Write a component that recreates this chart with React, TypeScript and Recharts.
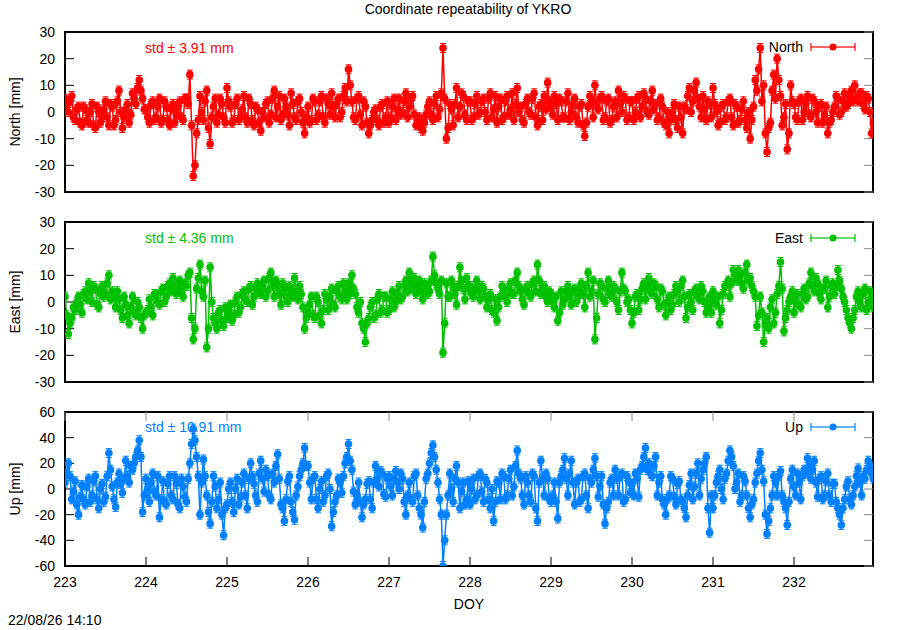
import React from 'react';
import { LineChart, Line, XAxis, YAxis, Legend, ReferenceArea, ReferenceLine } from 'recharts';

const FONT = '"Liberation Sans", Arial, sans-serif';

const DAYS = [223, 224, 225, 226, 227, 228, 229, 230, 231, 232];
const X_DOMAIN = [223, 232.975];
const X_TICKS = [223, 224, 225, 226, 227, 228, 229, 230, 231, 232];
const NE_TICKS = [-30, -20, -10, 0, 10, 20, 30];
const UP_TICKS = [-60, -40, -20, 0, 20, 40, 60];

// hourly values per day (on the hour), mm
const north223 = [5, 0, 6, -3, 2, -5, 1, -4, 3, -6, 0, -2, 4, -5, 2, -3, 8, -6, 1, -4, 7, 3, 12, 5];
const north224 = [1, -4, 4, -2, 5, -3, 2, -5, 3, -1, 4, -3, 5, 14, -24, -8, 6, -3, 8, -12, 2, -4, 5, -2];
const north225 = [9, 2, -3, 5, -2, 6, -4, 3, -5, 1, -7, -2, 4, -1, 8, 2, -3, 5, -1, 7, -2, 4, 0, -8];
const north226 = [2, -3, 4, -1, 6, -4, 3, 7, -2, 5, 0, 9, 16, 4, -3, 6, -5, 2, -8, -3, 1, -5, 3, -2];
const north227 = [-4, 2, -3, 5, 0, 7, 2, 6, -5, -2, -7, -1, 4, -3, 6, 1, 24, -10, 3, -5, 9, 2, 6, -3];
const north228 = [4, -2, 6, 0, 5, -3, 7, 1, -4, 5, -2, 6, 1, -3, 9, 2, -4, 5, -1, 7, -5, 3, 6, 11];
const north229 = [2, 6, -3, 4, -2, 7, 0, 5, -4, 3, -9, 2, 4, 10, 1, 6, -2, 5, -3, 4, 8, 0, 5, -2];
const north230 = [4, 0, 6, 2, 5, -1, 8, 3, -2, 2, -5, -8, 0, -3, 2, -8, 1, 9, 4, 11, 2, 6, -3, 3];
const north231 = [9, 0, -4, 3, -2, 5, -5, 2, -3, 4, -6, -10, 2, 8, 24, 10, -15, -4, 14, 20, 6, -2, -14, 10];
const north232 = [3, -3, 5, 0, 6, -2, 4, -4, 3, -1, -8, -3, 2, 5, 0, 7, 3, 8, 10, 4, 7, 1, 5, -8];

// half past the hour
const north223b = [3, 4, -2, 1, -4, 2, -3, 0, -5, 2, -4, 1, -2, 3, -5, 4, 0, -2, 3, -1, 5, 9, 8, 1];
const north224b = [-2, 3, -3, 2, -4, 4, -3, 1, -4, 2, -2, 5, 3, -5, -20, -3, 0, 4, -6, -2, 5, -1, 3, -4];
const north225b = [4, -4, 3, -3, 1, -2, 5, -3, 2, -4, 0, 3, -4, 5, -2, 6, -1, 2, -5, 3, -3, 5, -4, -2];
const north226b = [-4, 5, -3, 4, -2, 5, -1, 2, 3, -2, 6, 4, 10, -2, 5, -1, 4, -4, -5, 0, -3, 2, -4, 4];
const north227b = [-2, 5, 1, -1, 4, -2, 5, -1, -3, -6, -4, 2, -1, 3, -2, 7, 5, -6, 1, 3, -2, 7, -1, 4];
const north228b = [-3, 3, -1, 4, 0, 5, -2, 6, 2, -3, 4, -1, 7, 3, 0, -3, 3, 0, 5, -2, 2, -3, 1, 4];
const north229b = [-1, 3, 5, -2, 4, -3, 3, -2, 2, -5, -4, 6, -2, 3, 5, -3, 4, -4, 2, -2, 3, 6, -3, 4];
const north230b = [-3, 5, -2, 7, 0, 4, 1, -3, 5, -4, 0, -3, 3, -6, -2, 2, 6, 0, 8, 5, -2, 1, 4, -2];
const north231b = [3, -5, 2, -3, 4, -2, 3, -4, 1, -3, 0, -3, 12, 16, 4, -8, -6, 8, 5, 12, -5, 3, -8, 4];
const north232b = [-2, 4, -3, 3, -1, 5, 0, 2, -4, 2, -4, 0, 6, -1, 4, 2, 6, 4, 5, 7, 3, 6, 0, -4];

const east223 = [2, -12, -6, -3, 2, -4, 4, 7, 0, 5, -2, 6, 3, 10, 4, -2, 1, -6, -1, -8, 2, -5, -2, -10];
const east224 = [-4, 1, -5, 3, -1, 5, 2, 7, 9, 3, 8, 2, 6, 11, -14, 5, 14, 2, -17, 13, -6, -10, -3, -9];
const east225 = [-6, -1, -5, 2, -2, 4, 0, 6, 2, 7, 3, 8, 4, 11, 2, 6, -1, 5, 0, 4, 9, 1, 3, -10];
const east226 = [-4, 2, -6, 0, -8, 3, -3, 5, -2, 6, 1, 4, 7, 10, 3, -4, -8, -15, -6, 0, -5, 3, -3, 2];
const east227 = [-3, 4, 0, 6, 2, 8, 11, 5, 3, 8, 1, 6, 4, 17, 7, 3, -19, 7, 2, 6, -1, 13, 5, 9];
const east228 = [6, 2, 8, 1, 5, -2, 3, -4, -7, 2, 5, 0, 7, 3, 11, 4, -1, 6, 2, 8, 14, 3, 6, 0];
const east229 = [3, -2, -7, 4, 1, 6, -1, 5, 2, 7, -2, 11, 4, -14, 3, 6, 0, 8, 2, 5, -3, 11, 4, 1];
const east230 = [-8, 2, -3, 5, 1, 9, 3, 6, -2, 4, -5, 2, -1, 6, 0, 8, -6, 3, -3, 5, 1, 4, -4, 2];
const east231 = [4, -1, -8, 3, 6, 2, 12, 8, 10, 5, 14, 9, 4, -9, 2, -15, -6, -2, -8, 3, 15, -11, -3, 2];
const east232 = [-4, 3, -2, 5, 2, 11, 4, 7, 1, 5, -2, 6, 3, 12, 5, 0, -6, -10, -3, 4, -2, 5, 0, 2];

const east223b = [-5, -8, -2, 0, -1, 3, 1, 4, 6, -1, 3, 2, 7, 1, 2, 4, -3, 2, -5, -2, -4, 0, -6, -5];
const east224b = [-3, -2, 3, 0, 4, 0, 6, 4, 5, 6, 4, 7, 10, -6, -10, 9, 4, 8, -10, 0, -8, -4, -7, -2];
const east225b = [-3, -7, 0, -4, 3, 1, 5, -1, 5, 4, 6, 2, 9, 6, 8, 3, 7, 2, 6, 2, 4, 6, -2, -6];
const east226b = [-1, -5, 2, -5, -3, 1, 2, -1, 4, 2, 7, 1, 3, 5, -2, 0, -10, -8, -2, -6, 1, -4, 2, -4];
const east227b = [1, -2, 3, 1, 6, 4, 7, 9, 6, 4, 7, 3, 8, 10, 5, 8, -8, 2, 8, 3, 6, 8, 1, 5];
const east228b = [3, 5, 4, 6, 2, 1, -3, 1, -2, 6, 2, 5, 3, 8, 6, 1, 5, 3, 7, 4, 8, 5, 2, 4];
const east229b = [0, 2, -4, -1, 4, 2, 4, 0, 5, 3, 6, 2, 8, -6, 7, 1, 5, 3, 6, 0, 4, 5, 0, -3];
const east230b = [-4, 3, 1, 7, 6, 4, 7, 1, 5, -1, 0, -3, 3, 4, 6, 2, -2, 0, 4, 2, 6, 0, -2, -4];
const east231b = [0, 2, -3, 6, 8, 7, 10, 12, 7, 11, 8, 6, 2, -5, -4, -8, -10, 1, -4, 6, 5, -6, 0, 4];
const east232b = [0, -1, 3, 1, 7, 6, 9, 3, 5, 8, 2, 7, 6, 8, 2, -3, -8, -6, 2, 0, 3, -3, 4, -2];

const up223 = [5, 20, -8, 6, -20, 3, -12, 8, -5, 10, -15, 4, -6, 28, 2, -14, 12, -3, 22, 5, 15, 25, 38, -18];
const up224 = [8, -10, 12, -5, -22, 6, -12, 10, -8, 4, -15, 2, -10, 20, 47, 25, -20, 23, -5, -27, 10, -15, 5, -36];
const up225 = [-12, 5, -18, 8, -6, 12, -15, 20, 4, -10, 22, -2, 10, -8, 5, 27, -12, -25, 6, -10, -24, 2, 15, 32];
const up226 = [18, -8, 10, -15, 6, -5, 12, -29, -10, 8, -3, 20, 35, 15, -12, 5, -22, -8, 6, -15, 18, 2, 12, -6];
const up227 = [10, -5, 14, 0, 8, -20, 5, -10, 12, -15, -30, 8, 20, 34, 15, -8, -60, -20, 12, -10, 18, -15, 5, -8];
const up228 = [-12, 8, -5, 12, -10, 5, -15, -25, 6, -8, 10, -5, 15, 2, 30, 8, -12, 5, -10, 10, -25, 22, -5, 8];
const up229 = [-10, 5, -23, 10, 24, -5, 22, -12, 8, -8, 12, -15, 5, 24, -6, 10, -27, -10, 8, 15, -5, 12, -8, 6];
const up230 = [4, 12, -6, 18, 32, 20, 10, 25, 5, -8, -20, -5, 8, -12, 6, -10, -22, 3, -8, 12, -5, 15, 25, -34];
const up231 = [-15, 5, 15, -8, 12, 30, 18, 5, -10, 10, -5, -22, -8, 12, 28, 6, -35, -15, 10, -5, 14, -10, -28, 8];
const up232 = [2, 12, -8, 15, 24, 8, 22, -6, 10, -5, 12, -10, 4, -15, -28, -8, 6, -12, 2, 16, -5, 8, 22, 12];

const up223b = [12, 10, -2, -12, -6, -8, 2, -10, 6, -8, 0, -10, 10, 15, -8, 5, 4, 8, 10, 18, 20, 30, 25, -5];
const up224b = [0, 5, -2, 10, -8, -10, 4, -5, 10, -12, 8, -6, 8, 35, 38, 10, 5, 10, -18, -10, 2, -8, -20, -15];
const up225b = [0, -10, 0, -12, 5, -5, 8, 10, -5, 12, 8, 15, -5, 12, 18, 8, -15, -8, 10, -18, -5, 10, 20, 18];
const up226b = [5, 8, -8, 0, -10, 10, 0, -18, -5, 5, 10, 25, 22, -2, -5, -10, -12, 4, -8, 5, 8, 14, -4, 8];
const up227b = [2, 8, 5, 12, -10, -5, -8, 10, -5, -20, -10, 12, 28, 25, 5, -20, -40, -5, 0, 8, 5, -2, -12, 6];
const up228b = [0, -8, 10, -2, 8, -8, 0, -10, 5, 12, -8, 8, -5, 18, 12, -5, 10, -5, 12, -15, 5, 8, 12, -8];
const up229b = [-5, -10, 5, 15, 8, 12, 5, 5, -10, 10, -5, 8, 15, 10, 2, -12, -15, 5, -5, 8, 10, -10, 10, -3];
const up230b = [-5, 8, 15, 25, 15, 12, 18, -5, 10, -12, -8, 10, -6, 4, -8, -15, -5, 12, 2, 20, 8, 20, -15, -5];
const up231b = [-5, 10, 0, 8, 22, 25, 0, 12, -5, 6, -15, -12, 5, 22, 15, -20, -25, -5, 5, 10, -5, -15, -10, 15];
const up232b = [-5, 5, 10, 12, 18, 15, 5, 8, -8, 6, -5, 4, -10, -20, -15, 2, -8, -5, 10, 5, 10, 15, 18, 8];

const NORTH = [north223, north224, north225, north226, north227, north228, north229, north230, north231, north232];
const NORTH_B = [north223b, north224b, north225b, north226b, north227b, north228b, north229b, north230b, north231b, north232b];
const EAST = [east223, east224, east225, east226, east227, east228, east229, east230, east231, east232];
const EAST_B = [east223b, east224b, east225b, east226b, east227b, east228b, east229b, east230b, east231b, east232b];
const UP = [up223, up224, up225, up226, up227, up228, up229, up230, up231, up232];
const UP_B = [up223b, up224b, up225b, up226b, up227b, up228b, up229b, up230b, up231b, up232b];

function toRows(hours: number[][], halves: number[][]) {
  return hours.flatMap((vals, d) =>
    vals.flatMap((v, h) => [
      { x: DAYS[d] + h / 24, v },
      { x: DAYS[d] + h / 24 + 1 / 48, v: halves[d][h] },
    ])
  );
}

const PLOT_W = 808;
const TICK_PX = 9;

const legendContent = (name: string, color: string) => () => (
  <svg width={130} height={16} style={{ display: 'block' }}>
    <text x={68} y={13} textAnchor="end" fontSize={14} fontFamily={FONT} fill="#000">
      {name}
    </text>
    <g stroke={color} strokeOpacity={0.6} strokeWidth={2}>
      <line x1={76} y1={8} x2={120} y2={8} />
      <line x1={76} y1={4} x2={76} y2={12} />
      <line x1={120} y1={4} x2={120} y2={12} />
    </g>
    <circle cx={98} cy={8} r={3.5} fill={color} />
  </svg>
);

// gnuplot-ish point with a small error bar
const makeDot = (color: string) => (p: any) => {
  if (p.cx == null || p.cy == null) return <g key={p.key} />;
  return (
    <g key={p.key ?? `d${p.index}`}>
      <line x1={p.cx} x2={p.cx} y1={p.cy - 5} y2={p.cy + 5} stroke={color} strokeWidth={1.2} />
      <line x1={p.cx - 3} x2={p.cx + 3} y1={p.cy - 4.5} y2={p.cy - 4.5} stroke={color} strokeWidth={1} />
      <line x1={p.cx - 3} x2={p.cx + 3} y1={p.cy + 4.5} y2={p.cy + 4.5} stroke={color} strokeWidth={1} />
      <circle cx={p.cx} cy={p.cy} r={3.8} fill={color} />
    </g>
  );
};

function Panel(props: any) {
  const { rows, color, name, yLabel, domain, ticks, top, height, margin, std, stdTop, legendTop, withX } = props;
  const plotH = height - margin.top - margin.bottom - (withX ? 45 : 0);
  const xTick = (TICK_PX * (X_DOMAIN[1] - X_DOMAIN[0])) / PLOT_W;
  const yTick = (TICK_PX * (domain[1] - domain[0])) / plotH;
  return (
    <div style={{ position: 'absolute', left: 0, top, width: 900, height }}>
      <div
        style={{
          position: 'absolute',
          left: 145,
          top: stdTop,
          color,
          fontSize: 14,
          fontFamily: FONT,
          whiteSpace: 'nowrap',
        }}
      >
        {std}
      </div>
      <div style={{ position: 'absolute', left: 0, top: 0 }}>
        <LineChart width={900} height={height} data={rows} margin={margin}>
          <XAxis
            dataKey="x"
            type="number"
            domain={X_DOMAIN}
            ticks={X_TICKS}
            allowDataOverflow
            height={withX ? 45 : 0}
            tick={withX ? { fontSize: 14, fill: '#000', fontFamily: FONT } : false}
            tickLine={false}
            tickSize={8}
            tickMargin={3}
            axisLine={false}
            label={
              withX
                ? { value: 'DOY', position: 'insideBottom', offset: 2, fontSize: 14, fill: '#000', fontFamily: FONT }
                : undefined
            }
          />
          <YAxis
            type="number"
            domain={domain}
            ticks={ticks}
            allowDataOverflow
            width={65}
            tickLine={false}
            tickSize={8}
            tickMargin={2}
            tick={{ fontSize: 14, fill: '#000', fontFamily: FONT }}
            axisLine={false}
            label={{
              value: yLabel,
              angle: -90,
              position: 'insideLeft',
              offset: 15,
              fontSize: 14,
              fill: '#000',
              fontFamily: FONT,
              style: { textAnchor: 'middle' },
            }}
          />
          {ticks.map((t: number) => (
            <ReferenceLine
              key={`l${t}`}
              segment={[{ x: X_DOMAIN[0], y: t }, { x: X_DOMAIN[0] + xTick, y: t }]}
              stroke="#000"
              strokeWidth={1}
              ifOverflow="visible"
            />
          ))}
          {ticks.map((t: number) => (
            <ReferenceLine
              key={`r${t}`}
              segment={[{ x: X_DOMAIN[1] - xTick, y: t }, { x: X_DOMAIN[1], y: t }]}
              stroke="#888"
              strokeWidth={1}
              ifOverflow="visible"
            />
          ))}
          {withX &&
            X_TICKS.map((t) => (
              <ReferenceLine
                key={`b${t}`}
                segment={[{ x: t, y: domain[0] }, { x: t, y: domain[0] + yTick }]}
                stroke="#000"
                strokeWidth={1}
                ifOverflow="visible"
              />
            ))}
          {withX &&
            X_TICKS.map((t) => (
              <ReferenceLine
                key={`t${t}`}
                segment={[{ x: t, y: domain[1] - yTick }, { x: t, y: domain[1] }]}
                stroke="#888"
                strokeWidth={1}
                ifOverflow="visible"
              />
            ))}
          <ReferenceArea
            x1={X_DOMAIN[0]}
            x2={X_DOMAIN[1]}
            y1={domain[0]}
            y2={domain[1]}
            fill="none"
            fillOpacity={0}
            stroke="#000"
            strokeWidth={2}
            ifOverflow="visible"
          />
          <Legend
            layout="horizontal"
            verticalAlign="middle"
            align="center"
            content={legendContent(name, color)}
            wrapperStyle={{ position: 'absolute', left: 735, top: legendTop, width: 130, height: 16 }}
          />
          <Line
            dataKey="v"
            name={name}
            stroke={color}
            strokeWidth={1.5}
            dot={makeDot(color)}
            activeDot={false}
            isAnimationActive={false}
          />
        </LineChart>
      </div>
    </div>
  );
}

export default function App() {
  return (
    <div
      style={{
        position: 'absolute',
        left: 0,
        top: 0,
        width: 900,
        height: 630,
        background: '#fff',
        fontFamily: FONT,
        overflow: 'hidden',
      }}
    >
      <div style={{ position: 'absolute', left: 0, top: 1, width: 936, textAlign: 'center', fontSize: 14 }}>
        Coordinate repeatability of YKRO
      </div>
      <Panel
        rows={toRows(NORTH, NORTH_B)}
        color="#ff0000"
        name="North"
        yLabel="North [mm]"
        domain={[-30, 30]}
        ticks={NE_TICKS}
        top={0}
        height={200}
        margin={{ top: 32, right: 27, bottom: 8, left: 0 }}
        std="std ± 3.91 mm"
        stdTop={40}
        legendTop={39}
        withX={false}
      />
      <Panel
        rows={toRows(EAST, EAST_B)}
        color="#00c000"
        name="East"
        yLabel="East [mm]"
        domain={[-30, 30]}
        ticks={NE_TICKS}
        top={200}
        height={200}
        margin={{ top: 22, right: 27, bottom: 18, left: 0 }}
        std="std ± 4.36 mm"
        stdTop={30}
        legendTop={30}
        withX={false}
      />
      <Panel
        rows={toRows(UP, UP_B)}
        color="#0080ff"
        name="Up"
        yLabel="Up [mm]"
        domain={[-60, 60]}
        ticks={UP_TICKS}
        top={400}
        height={230}
        margin={{ top: 12, right: 27, bottom: 19, left: 0 }}
        std="std ± 10.91 mm"
        stdTop={19}
        legendTop={19}
        withX
      />
      <div style={{ position: 'absolute', left: 8, top: 612, fontSize: 14 }}>22/08/26 14:10</div>
    </div>
  );
}
